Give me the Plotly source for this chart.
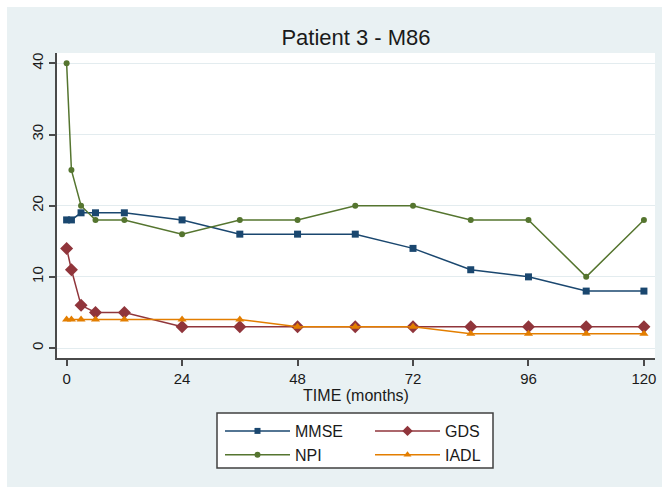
import plotly.graph_objects as go

months = [0, 1, 3, 6, 12, 24, 36, 48, 60, 72, 84, 96, 108, 120]
mmse = [18, 18, 19, 19, 19, 18, 16, 16, 16, 14, 11, 10, 8, 8]
npi = [40, 25, 20, 18, 18, 16, 18, 18, 20, 20, 18, 18, 10, 18]
gds = [14, 11, 6, 5, 5, 3, 3, 3, 3, 3, 3, 3, 3, 3]
iadl = [4, 4, 4, 4, 4, 4, 4, 3, 3, 3, 2, 2, 2, 2]

x_ticks = [0, 24, 48, 72, 96, 120]
y_ticks = [0, 10, 20, 30, 40]

FONT = "Liberation Sans, Arial, Helvetica, sans-serif"
BG = "#E9F1F3"

# name, values, colour, symbol, plot marker size, legend marker size, legend id, rank
series = [
    ("MMSE", mmse, "#1A476F", "square", 7, 6, "legend", 1),
    ("NPI", npi, "#55752F", "circle", 6, 6, "legend", 2),
    ("GDS", gds, "#90353B", "diamond", 10, 8, "legend2", 1),
    ("IADL", iadl, "#E37E00", "triangle-up", 8, 7, "legend2", 2),
]

fig = go.Figure()
for name, vals, color, sym, size, lsize, leg, rank in series:
    fig.add_trace(go.Scatter(
        x=months, y=vals, name=name, mode="lines+markers",
        line=dict(color=color, width=1.5),
        marker=dict(symbol=sym, size=size, color=color, line=dict(width=0)),
        showlegend=False,
    ))
for name, vals, color, sym, size, lsize, leg, rank in series:
    # legend-only entry (no data) so the legend symbol can be smaller
    fig.add_trace(go.Scatter(
        x=[None], y=[None], name=name, mode="lines+markers",
        line=dict(color=color, width=1.5),
        marker=dict(symbol=sym, size=lsize, color=color, line=dict(width=0)),
        legend=leg, legendrank=rank, hoverinfo="skip",
    ))

L, R, T, B = 57, 7, 53, 129
W, H = 662, 487
pw, ph = W - L - R, H - T - B

def px_x(px):
    return (px - L) / pw

def px_y(py):
    return (H - B - py) / ph

legend_common = dict(
    orientation="v", bgcolor="rgba(0,0,0,0)", borderwidth=0,
    font=dict(family=FONT, size=16, color="#1a1a1a"),
    itemwidth=65, xanchor="left", yanchor="top", traceorder="normal",
)

fig.update_layout(
    width=W, height=H,
    margin=dict(l=L, r=R, t=T, b=B, autoexpand=False),
    paper_bgcolor=BG, plot_bgcolor="white",
    font=dict(family=FONT, color="#1a1a1a"),
    title=dict(text="Patient 3 - M86", x=0.5, xref="paper", xanchor="center",
               y=1 - 37 / H, yref="container", yanchor="middle",
               font=dict(family=FONT, size=22, color="#1a1a1a")),
    xaxis=dict(
        range=[-2.0, 122.3], tickvals=x_ticks, ticktext=[str(v) for v in x_ticks],
        showgrid=False, zeroline=False, showline=True, linecolor="#4a4a4a", linewidth=1.5,
        ticks="outside", ticklen=6, tickwidth=1.5, tickcolor="#4a4a4a",
        tickfont=dict(family=FONT, size=15, color="#1a1a1a"),
        title=dict(text="TIME (months)", standoff=2,
                   font=dict(family=FONT, size=16, color="#1a1a1a")),
        fixedrange=True,
    ),
    yaxis=dict(
        range=[-1.4, 41.45], tickvals=y_ticks, ticktext=[str(v) for v in y_ticks],
        showgrid=True, gridcolor="#E3ECEF", gridwidth=1, zeroline=False,
        showline=True, linecolor="#4a4a4a", linewidth=1.5,
        ticks="outside", ticklen=6, tickwidth=1.5, tickcolor="#4a4a4a",
        tickangle=-90, tickfont=dict(family=FONT, size=15, color="#1a1a1a"),
        fixedrange=True,
    ),
    legend=dict(x=px_x(220), y=px_y(414), **legend_common),
    legend2=dict(x=px_x(370), y=px_y(414), **legend_common),
    shapes=[
        dict(type="rect", xref="paper", yref="paper",
             x0=px_x(217), x1=px_x(493), y0=px_y(468), y1=px_y(413),
             fillcolor="white", line=dict(color="#404040", width=1.5), layer="below"),
        dict(type="rect", xref="paper", yref="paper",
             x0=px_x(0), x1=px_x(W), y0=px_y(0), y1=px_y(7),
             fillcolor="white", line=dict(width=0), layer="below"),
        dict(type="rect", xref="paper", yref="paper",
             x0=px_x(0), x1=px_x(7), y0=px_y(H), y1=px_y(0),
             fillcolor="white", line=dict(width=0), layer="below"),
    ],
)

fig.write_html("out.html", config={"displayModeBar": False})
